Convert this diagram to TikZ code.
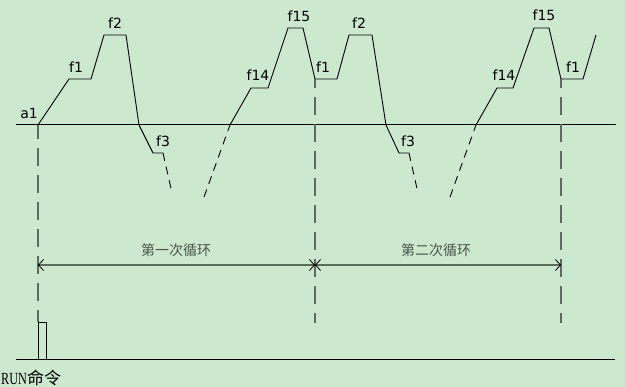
\documentclass[tikz,border=0pt]{standalone}
\usepackage{fontspec}
\setmainfont{DejaVu Sans}
\newfontfamily\cjk{Noto Sans CJK SC}
\newfontfamily\runfont{Liberation Serif}
\usetikzlibrary{arrows.meta, positioning}

\definecolor{bggreen}{RGB}{204,232,207}
\definecolor{guide}{RGB}{92,108,92}

\begin{document}
\begin{tikzpicture}[
        x=1pt, y=-1pt,
        wave/.style={
            draw=black,
            line width=0.9pt
        },
        wavegap/.style={
            wave,
            dash pattern=on 8pt off 6pt
        },
        axis/.style={
            draw=black,
            line width=1pt
        },
        guideline/.style={
            draw=guide,
            line width=1.6pt,
            dash pattern=on 18pt off 9pt
        },
        span/.style={
            draw=guide,
            line width=2pt,
            {Straight Barb[color=black, length=5pt, width=11pt, line width=0.8pt]}-{Straight Barb[color=black, length=5pt, width=11pt, line width=0.8pt]}
        },
        flabel/.style={
            font=\fontsize{14}{16}\selectfont,
            inner sep=1pt
        },
        cnlabel/.style={
            font=\cjk\fontsize{14}{16}\selectfont,
            text=guide!80!black,
            inner sep=1pt
        }
        ]

        \fill [bggreen] (0,0) rectangle (625,387);
        \useasboundingbox (0,0) rectangle (625,387);

        % axes
        \coordinate (ax0) at (16,125);
        \coordinate (ax1) at (616,125);
        \coordinate (bx0) at (16,360);
        \coordinate (bx1) at (615,360);
        \draw [axis] (ax0) -- (ax1);
        \draw [axis] (bx0) -- (bx1);

        % first cycle
        \coordinate (a1) at (38,125);
        \draw [wave] (a1) -- (69,79) -- (91,79) -- (104,35) -- (126,35)
            -- (139,125) -- (153,153) -- (163,153);
        \draw [wavegap] (163,153) -- (172,193);
        \draw [wavegap] (204,197) -- (230,125);
        \draw [wave] (230,125) -- (251,88) -- (268,88) -- (288,28) -- (303,28)
            -- (315,79) -- (337,79) -- (349,35) -- (372,35)
            -- (386,125) -- (399,153) -- (409,153);

        % second cycle
        \draw [wavegap] (409,153) -- (418,193);
        \draw [wavegap] (450,197) -- (476,125);
        \draw [wave] (476,125) -- (497,88) -- (513,88) -- (534,28) -- (549,28)
            -- (561,79) -- (583,79) -- (596,35);

        % guides
        \coordinate (g0) at (38,322);
        \coordinate (g1t) at (315,79);
        \coordinate (g1b) at (315,323);
        \coordinate (g2t) at (561,79);
        \coordinate (g2b) at (561,323);
        \draw [guideline, dash phase=4pt] (a1) -- (g0);
        \draw [guideline, dash phase=9pt] (g1t) -- (g1b);
        \draw [guideline, dash phase=9pt] (g2t) -- (g2b);

        % RUN pulse
        \draw [wave] (38,360) -- (g0) -- (46,322) -- (46,360);

        % cycle spans
        \coordinate (s0) at (38,265);
        \coordinate (s1) at (315,265);
        \coordinate (s2) at (561,265);
        \draw [span] (s0) -- (s1);
        \draw [span] (s1) -- (s2);

        \node (c1) [cnlabel] at (176,250) {第一次循环};
        \node (c2) [cnlabel] at (436,250) {第二次循环};

        % labels
        \node (la1) [flabel] at (29,113) {a1};
        \node (lf1) [flabel] at (76,67) {f1};
        \node (lf2) [flabel] at (115,23) {f2};
        \node (lf3) [flabel] at (163,141) {f3};
        \node (lf14) [flabel] at (258,75) {f14};
        \node (lf15) [flabel] at (299,16) {f15};
        \node (mf1) [flabel] at (323,67) {f1};
        \node (mf2) [flabel] at (359,23) {f2};
        \node (mf3) [flabel] at (408,141) {f3};
        \node (mf14) [flabel] at (504,75) {f14};
        \node (mf15) [flabel] at (544,15) {f15};
        \node (rf1) [flabel] at (573,67) {f1};

        \node (run) [anchor=west, inner sep=0pt, font=\fontsize{17}{19}\selectfont]
            at (1,378) {\runfont\scalebox{0.72}[1]{RUN}\cjk 命令};

    \end{tikzpicture}
\end{document}
